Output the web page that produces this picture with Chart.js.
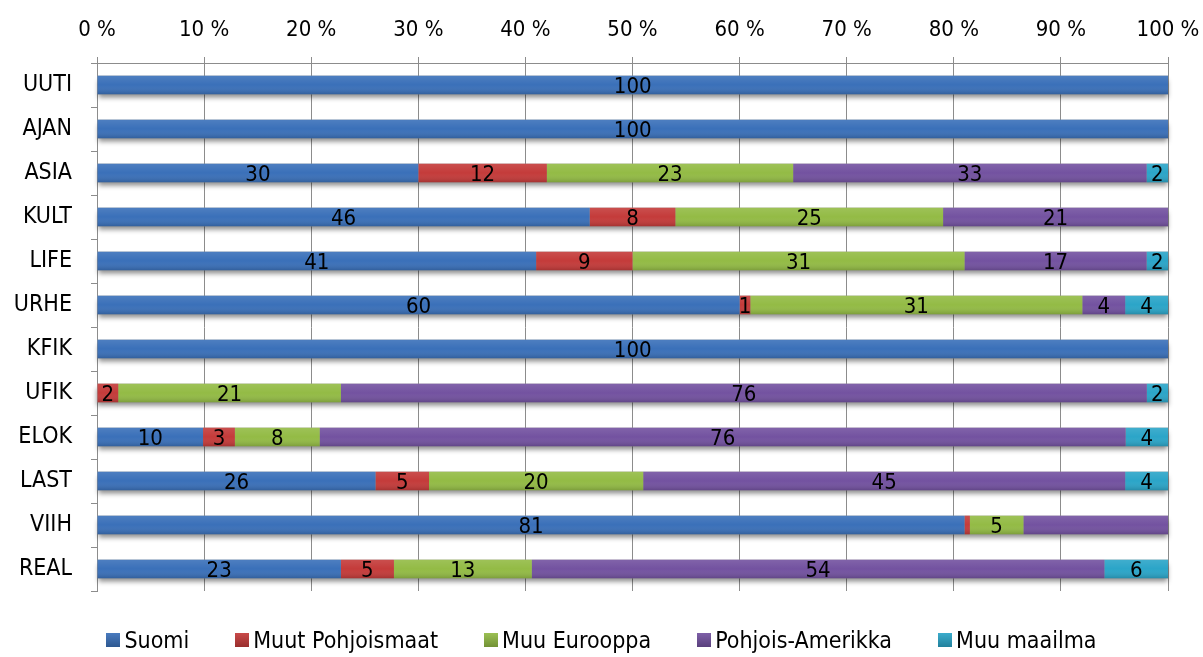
<!DOCTYPE html>
<html>
<head>
<meta charset="utf-8">
<script src="https://cdn.jsdelivr.net/npm/chart.js@4.4.1/dist/chart.umd.min.js"></script>
<style>
  html, body { margin: 0; padding: 0; background: #ffffff; }
  #wrap { width: 1203px; height: 657px; position: relative; }
  #legend { position: absolute; left: 0; top: 625px; width: 1203px; height: 30px;
            display: flex; justify-content: center; align-items: center; gap: 46px;
            font-family: 'DejaVu Sans Condensed', 'DejaVu Sans', sans-serif; font-size: 23px; color: #000; }
  #legend .item { display: flex; align-items: center; white-space: nowrap; }
  #legend .box { width: 14px; height: 14px; margin-right: 4px; }
</style>
</head>
<body>
<div id="wrap"><canvas id="c" width="1203" height="657"></canvas><div id="legend"></div></div>
<script>
const categories = ['UUTI','AJAN','ASIA','KULT','LIFE','URHE','KFIK','UFIK','ELOK','LAST','VIIH','REAL'];
const seriesNames = ['Suomi','Muut Pohjoismaat','Muu Eurooppa','Pohjois-Amerikka','Muu maailma'];
const suomi           = [100, 100, 30, 46, 41, 60, 100,  0, 10, 26, 81,   23];
const muutPohjoismaat = [  0,   0, 12,  8,  9,  1,   0,  2,  3,  5, 0.5,  5];
const muuEurooppa     = [  0,   0, 23, 25, 31, 31,   0, 21,  8, 20, 5,   13];
const pohjoisAmerikka = [  0,   0, 33, 21, 17,  4,   0, 76, 76, 45, 13.5, 54];
const muuMaailma      = [  0,   0,  2,  0,  2,  4,   0,  2,  4,  4, 0,    6];
const tickValues = [0,10,20,30,40,50,60,70,80,90,100];
// data labels that are not shown in the original: [category, series index]
const hiddenLabels = [['VIIH', 3]];

const colors = ['#3a70b9', '#c43b3a', '#93bb45', '#7352a0', '#2ba5c8'];
const raw = [suomi, muutPohjoismaat, muuEurooppa, pohjoisAmerikka, muuMaailma];
const totals = categories.map((_, i) => raw.reduce((s, arr) => s + arr[i], 0));

const FONT = "'DejaVu Sans Condensed', 'DejaVu Sans', sans-serif";

const datasets = raw.map((arr, k) => ({
  label: seriesNames[k],
  data: arr.map((v, i) => v / totals[i] * 100),
  rawValues: arr,
  backgroundColor: colors[k],
  borderWidth: 0,
  barPercentage: 0.9,
  categoryPercentage: 0.47
}));

// HTML legend built from the series names and colours
const legendEl = document.getElementById('legend');
seriesNames.forEach((n, k) => {
  const it = document.createElement('div'); it.className = 'item';
  const b = document.createElement('div'); b.className = 'box';
  b.style.backgroundColor = colors[k];
  b.style.backgroundImage = 'linear-gradient(rgba(255,255,255,0.08), rgba(0,0,0,0.22))';
  const t = document.createElement('span'); t.textContent = n;
  it.appendChild(b); it.appendChild(t); legendEl.appendChild(it);
});

const barEffects = {
  id: 'barEffects',
  beforeDatasetsDraw(chart) {
    const ctx = chart.ctx;
    const metas = chart.getSortedVisibleDatasetMetas();
    categories.forEach((c, i) => {
      let left = Infinity, right = -Infinity, top = 0, h = 0;
      metas.forEach(m => {
        const el = m.data[i];
        if (!el) return;
        left = Math.min(left, el.base, el.x);
        right = Math.max(right, el.base, el.x);
        top = el.y - el.height / 2; h = el.height;
      });
      ctx.save();
      ctx.shadowColor = 'rgba(0,0,0,0.45)';
      ctx.shadowBlur = 5;
      ctx.shadowOffsetX = 0;
      ctx.shadowOffsetY = 4;
      ctx.fillStyle = '#999';
      ctx.fillRect(left, top, right - left, h);
      ctx.restore();
    });
  },
  afterDatasetsDraw(chart) {
    const ctx = chart.ctx;
    const metas = chart.getSortedVisibleDatasetMetas();
    metas.forEach(m => {
      m.data.forEach(el => {
        const l = Math.min(el.base, el.x), w = Math.abs(el.x - el.base);
        if (w <= 0) return;
        const t = el.y - el.height / 2;
        const g = ctx.createLinearGradient(0, t, 0, t + el.height);
        g.addColorStop(0, 'rgba(255,255,255,0.10)');
        g.addColorStop(0.5, 'rgba(255,255,255,0)');
        g.addColorStop(1, 'rgba(0,0,0,0.16)');
        ctx.fillStyle = g;
        ctx.fillRect(l, t, w, el.height);
      });
    });
    // data labels
    ctx.save();
    ctx.font = "22px " + FONT;
    ctx.fillStyle = '#000';
    ctx.textAlign = 'center';
    ctx.textBaseline = 'middle';
    metas.forEach(m => {
      const ds = chart.data.datasets[m.index];
      m.data.forEach((el, i) => {
        const v = ds.rawValues[i];
        if (v < 1) return;
        if (hiddenLabels.some(h => h[0] === categories[i] && h[1] === m.index)) return;
        ctx.fillText(String(Math.round(v)), (el.x + el.base) / 2, el.y + 2);
      });
    });
    ctx.restore();
  }
};

new Chart(document.getElementById('c'), {
  type: 'bar',
  data: { labels: categories, datasets },
  plugins: [barEffects],
  options: {
    indexAxis: 'y',
    responsive: false,
    animation: false,
    layout: { padding: { left: 0, right: 35, top: 0, bottom: 66 } },
    scales: {
      x: {
        position: 'top',
        stacked: true,
        min: 0, max: 100,
        afterBuildTicks(scale) { scale.ticks = tickValues.map(v => ({ value: v })); },
        afterFit(scale) { scale.height = 63; scale.paddingLeft = 0; scale.paddingRight = 0; },
        ticks: {
          callback: v => v + ' %',
          color: '#000',
          font: { family: FONT, size: 22 },
          padding: 14,
          maxRotation: 0
        },
        grid: { color: '#8c8c8c', lineWidth: 1, tickLength: 6, drawTicks: true },
        border: { color: '#8c8c8c', width: 1 }
      },
      y: {
        stacked: true,
        afterFit(scale) { scale.width = 97; },
        ticks: {
          color: '#000',
          font: { family: FONT, size: 23 },
          padding: 19
        },
        grid: { offset: true, drawOnChartArea: false, drawTicks: true, tickLength: 6, color: '#8c8c8c' },
        border: { color: '#8c8c8c', width: 1 }
      }
    },
    plugins: {
      tooltip: { enabled: false },
      legend: { display: false }
    }
  }
});
</script>
</body>
</html>
